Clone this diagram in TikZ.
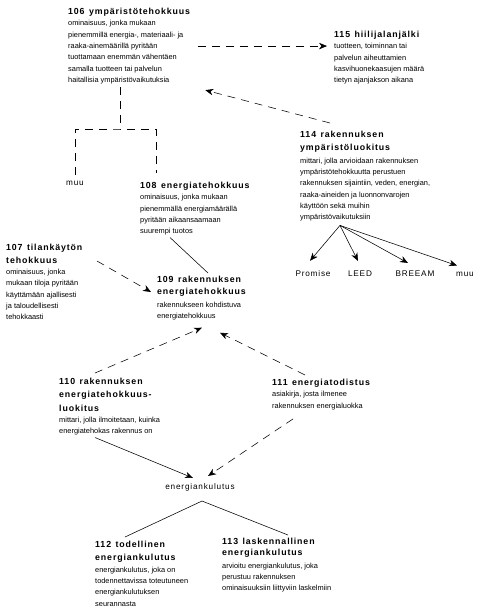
\documentclass[tikz,border=0pt]{standalone}
\usepackage{fontspec}
\setmainfont{Liberation Sans}
\usepackage{tikz}
\usetikzlibrary{arrows.meta, calc}
\newcommand{\hd}[1]{{\fontsize{8.8}{13}\selectfont\bfseries\addfontfeatures{LetterSpace=10}#1}}

\begin{document}
\begin{tikzpicture}[x=1pt, y=-1pt,
    term/.style={anchor=north west, align=left, inner sep=0pt, font=\fontsize{7.4}{11.3}\selectfont},
    word/.style={inner sep=0pt, font=\fontsize{8.2}{10}\selectfont\addfontfeatures{LetterSpace=10}},
    dashline/.style={line width=0.55pt, dash pattern=on 8pt off 6pt},
    dasharr/.style={dashline, -{Stealth[length=8pt, width=6.5pt, inset=2.5pt]}},
    solidarr/.style={line width=0.55pt, -{Stealth[length=8pt, width=6.5pt, inset=2.5pt]}}]
  \useasboundingbox (0, 0) rectangle (480, 611);
  % terms
  \node[term] (n106) at (68, 8) {\hd{106\enspace ympäristötehokkuus}\\ominaisuus, jonka mukaan\\pienemmillä energia-, materiaali- ja\\raaka-ainemäärillä pyritään\\tuottamaan enemmän vähentäen\\samalla tuotteen tai palvelun\\haitallisia ympäristövaikutuksia};
  \node[term] (n115) at (334, 31) {\hd{115\enspace hiilijalanjälki}\\tuotteen, toiminnan tai\\palvelun aiheuttamien\\kasvihuonekaasujen määrä\\tietyn ajanjakson aikana};
  \node[term] (n114) at (300, 131) {\hd{114\enspace rakennuksen}\\[1.5pt]\hd{ympäristöluokitus}\\[1.5pt]mittari, jolla arvioidaan rakennuksen\\ympäristötehokkuutta perustuen\\rakennuksen sijaintiin, veden, energian,\\raaka-aineiden ja luonnonvarojen\\käyttöön sekä muihin\\ympäristövaikutuksiin};
  \node[term] (n108) at (140, 182) {\hd{108\enspace energiatehokkuus}\\ominaisuus, jonka mukaan\\pienemmällä energiamäärällä\\pyritään aikaansaamaan\\suurempi tuotos};
  \node[term] (n107) at (6, 244) {\hd{107\enspace tilankäytön}\\[1.5pt]\hd{tehokkuus}\\ominaisuus, jonka\\mukaan tiloja pyritään\\käyttämään ajallisesti\\ja taloudellisesti\\tehokkaasti};
  \node[term] (n109) at (157, 276) {\hd{109\enspace rakennuksen}\\[1pt]\hd{energiatehokkuus}\\[1.5pt]rakennukseen kohdistuva\\energiatehokkuus};
  \node[term] (n110) at (59, 378) {\hd{110\enspace rakennuksen}\\[2pt]\hd{energiatehokkuus-}\\[2pt]\hd{luokitus}\\mittari, jolla ilmoitetaan, kuinka\\energiatehokas rakennus on};
  \node[term] (n111) at (272, 379) {\hd{111\enspace energiatodistus}\\asiakirja, josta ilmenee\\rakennuksen energialuokka};
  \node[term] (n112) at (95, 541) {\hd{112\enspace todellinen}\\[2pt]\hd{energiankulutus}\\energiankulutus, joka on\\todennettavissa toteutuneen\\energiankulutuksen\\seurannasta};
  \node[term] (n113) at (222, 538) {\hd{113\enspace laskennallinen}\\\hd{energiankulutus}\\[1pt]arvioitu energiankulutus, joka\\perustuu rakennuksen\\ominaisuuksiin liittyviin laskelmiin};
  % single words
  \node[word] (muuA) at (75, 183) {muu};
  \node[word] (kulutus) at (200, 487) {energiankulutus};
  \node[word] (promise) at (313, 274) {Promise};
  \node[word] (leed) at (360, 274) {LEED};
  \node[word] (breeam) at (415, 274) {BREEAM};
  \node[word] (muuB) at (465, 274) {muu};
  % 106 branches
  \coordinate (fork) at (120, 129);
  \draw[dashline] (fork |- n106.south) ++(0, 3) -- (fork);
  \draw[dashline] ([yshift=6pt]muuA.north) -- (muuA.north |- fork) -- (fork) -- (fork -| 156, 0) -- ($(n108.north west)+(16, -9)$);
  \draw[dasharr] ($(n106.east)+(8, 0)$) -- ($(n115.west |- n106.east)+(-7, 0)$);
  \draw[dasharr] ($(n114.north west)+(30, -8)$) -- ($(n106.south east)+(15, 6)$);
  % 114 schemes
  \coordinate (src) at ($(n114.south west)+(40, 4)$);
  \draw[solidarr] (src) -- ($(promise.north)+(-3, -10)$);
  \draw[solidarr] (src) -- ($(leed.north)+(-2, -10)$);
  \draw[solidarr] (src) -- ($(breeam.north)+(-7, -8)$);
  \draw[solidarr] (src) -- ($(muuB.north)+(-8, -6)$);
  % into 109
  \draw[line width=0.55pt] ($(n108.south west)+(30, 2)$) -- ($(n109.north west)+(51, -3)$);
  \draw[dasharr] ($(n107.north west)+(91, 17)$) -- ($(n109.north west)+(-6, 16)$);
  \draw[dasharr] ($(n110.north west)+(36, -5)$) -- ($(n109.south west)+(45, 7)$);
  \draw[dasharr] ($(n111.north west)+(33, -4)$) -- ($(n109.south west)+(63, 12)$);
  % energiankulutus
  \draw[solidarr] ($(n110.south west)+(36, 2)$) -- ($(kulutus.north)+(-7, -5)$);
  \draw[dasharr] ($(n111.south west)+(21, 9)$) -- ($(kulutus.north)+(8, -7)$);
  \draw[line width=0.55pt] ($(n112.north west)+(30, -4)$) -- ($(kulutus.south)+(2, 10)$) -- ($(n113.north west)+(66, -3)$);
\end{tikzpicture}
\end{document}
